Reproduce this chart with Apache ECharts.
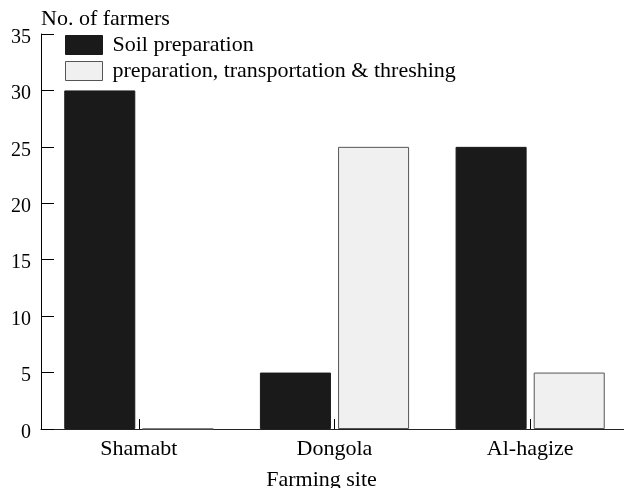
<!DOCTYPE html>
<html><head><meta charset="utf-8">
<script src="https://cdn.jsdelivr.net/npm/echarts@6/dist/echarts.min.js"></script>
<style>html,body{margin:0;padding:0;background:#fff}#c{width:624px;height:488px}</style>
</head><body><div id="c"></div>
<script>
const categories = ["Shamabt", "Dongola", "Al-hagize"];
const soilPreparation = [30, 5, 25];
const prepTransportThreshing = [0, 25, 5];
const yTicks = [0, 5, 10, 15, 20, 25, 30, 35];

const font = "'Liberation Serif', 'Times New Roman', serif";
const chart = echarts.init(document.getElementById('c'), null, {renderer: 'canvas'});
chart.setOption({
  animation: false,
  backgroundColor: '#fff',
  textStyle: {fontFamily: font, color: '#000'},
  grid: {left: 41, width: 587, top: 34, bottom: 59, containLabel: false, outerBoundsMode: 'none'},
  legend: {
    orient: 'vertical', left: 65, top: 34, padding: 0, itemWidth: 37, itemHeight: 19, itemGap: 4,
    textStyle: {fontFamily: font, fontSize: 22, lineHeight: 19, color: '#000', padding: [0,0,0,5]},
    data: [
      {name: 'Soil preparation', icon: 'rect', itemStyle: {color: '#1a1a1a', borderColor: '#1a1a1a', borderWidth: 1}},
      {name: 'preparation, transportation & threshing', icon: 'rect', itemStyle: {color: '#f0f0f0', borderColor: '#555', borderWidth: 1}}
    ]
  },
  xAxis: {
    type: 'category', data: categories,
    name: 'Farming site', nameLocation: 'middle', nameGap: 40,
    nameTextStyle: {fontFamily: font, fontSize: 22, color: '#000', padding: [0, 26, 0, 0]},
    axisLine: {lineStyle: {color: '#222', width: 1.2}},
    axisTick: {show: true, alignWithLabel: true, inside: true, length: 10, lineStyle: {color: '#000'}},
    axisLabel: {fontFamily: font, fontSize: 22, color: '#000', margin: 9}
  },
  yAxis: {
    type: 'value', min: 0, max: 35, interval: 5,
    name: 'No. of farmers', nameLocation: 'end', nameGap: 4,
    nameTextStyle: {fontFamily: font, fontSize: 22, color: '#000', align: 'left'},
    axisLine: {show: true, lineStyle: {color: '#000', width: 1}},
    axisTick: {show: true, inside: true, length: 13, lineStyle: {color: '#000'}},
    axisLabel: {
      color: '#000', margin: 10, formatter: '{a|{value}}',
      rich: {a: {fontFamily: font, fontSize: 20, color: '#000', padding: [7, 0, 0, 0]}}
    },
    splitLine: {show: false}
  },
  series: [
    {name: 'Soil preparation', type: 'bar', data: soilPreparation, barWidth: '36.3%', barGap: '10%',
     itemStyle: {color: '#1a1a1a', borderColor: '#1a1a1a', borderWidth: 1}},
    {name: 'preparation, transportation & threshing', type: 'bar', data: prepTransportThreshing, barWidth: '36.3%',
     itemStyle: {color: '#f0f0f0', borderColor: '#555', borderWidth: 1}}
  ]
});
</script></body></html>
